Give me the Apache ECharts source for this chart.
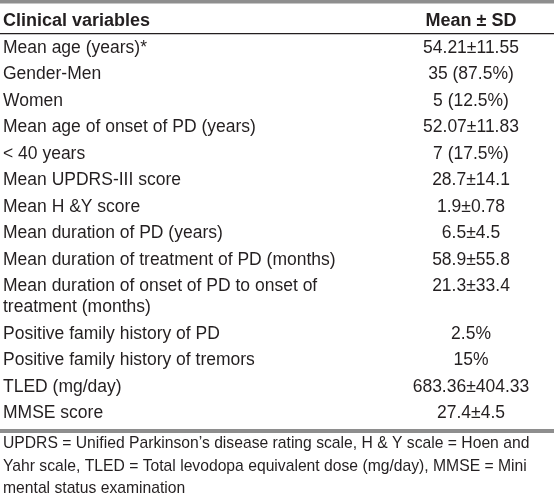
<!DOCTYPE html>
<html><head><meta charset="utf-8">
<script src="https://cdn.jsdelivr.net/npm/echarts@6/dist/echarts.min.js"></script>
<style>html,body{margin:0;padding:0;background:#fff}#c{width:554px;height:496px}</style>
</head><body><div id="c"></div>
<script>
const headerLabels = ['Clinical variables', 'Mean \u00b1 SD'];
const rowLabels = [
  'Mean age (years)*',
  'Gender-Men',
  'Women',
  'Mean age of onset of PD (years)',
  '< 40 years',
  'Mean UPDRS-III score',
  'Mean H &Y score',
  'Mean duration of PD (years)',
  'Mean duration of treatment of PD (months)',
  'Mean duration of onset of PD to onset of\ntreatment (months)',
  'Positive family history of PD',
  'Positive family history of tremors',
  'TLED (mg/day)',
  'MMSE score'
];
const rowValues = [
  '54.21\u00b111.55',
  '35 (87.5%)',
  '5 (12.5%)',
  '52.07\u00b111.83',
  '7 (17.5%)',
  '28.7\u00b114.1',
  '1.9\u00b10.78',
  '6.5\u00b14.5',
  '58.9\u00b155.8',
  '21.3\u00b133.4',
  '2.5%',
  '15%',
  '683.36\u00b1404.33',
  '27.4\u00b14.5'
];
const footnoteLines = [
  'UPDRS = Unified Parkinson\u2019s disease rating scale, H & Y scale = Hoen and',
  'Yahr scale, TLED = Total levodopa equivalent dose (mg/day), MMSE = Mini',
  'mental status examination'
];

const FONT = "'Liberation Sans', Arial, Helvetica, sans-serif";
const TEXT = '#231f20';
const LINE_STEP = 0.81;   // extra line inside a wrapped cell (row units)
const LEFT_X = 3, VALUE_X = 471;

// row positions (row units), derived from number of lines in each label
const rowPos = [];
let p = 1;
rowLabels.forEach(l => { rowPos.push(p); p += 1 + LINE_STEP * (l.split('\n').length - 1); });
const lastPos = rowPos[rowPos.length - 1];

const rowData = rowLabels.map((l, i) => [i, rowPos[i]]);

const chart = echarts.init(document.getElementById('c'), null, {renderer: 'canvas'});

function txt(x, y, s, opt) {
  return {type: 'text', style: Object.assign({x: x, y: y, text: s, fill: TEXT,
    font: '17.5px ' + FONT, textAlign: 'left', textVerticalAlign: 'middle'}, opt || {})};
}

chart.setOption({
  animation: false,
  grid: {left: 0, right: 0, top: 0, bottom: 0},
  xAxis: {type: 'value', min: 0, max: 554, show: false},
  yAxis: {type: 'value', inverse: true, min: -0.8, max: -0.8 + 496 / 26.5, show: false},
  series: [
    {
      type: 'custom',
      data: rowData,
      renderItem: function (params, api) {
        const i = api.value(0);
        const pos = api.value(1);
        const lines = rowLabels[i].split('\n');
        const children = [];
        lines.forEach((ln, j) => {
          const pt = api.coord([LEFT_X, pos + j * LINE_STEP]);
          children.push(txt(pt[0], pt[1], ln));
        });
        const vp = api.coord([VALUE_X, pos]);
        children.push(txt(vp[0], vp[1], rowValues[i], {textAlign: 'center'}));
        return {type: 'group', children: children};
      }
    },
    {
      type: 'custom',
      data: [[0, 0]],
      renderItem: function (params, api) {
        const cs = params.coordSys;
        const children = [];
        // top gray rule
        children.push({type: 'rect', shape: {x: cs.x, y: cs.y, width: cs.width, height: 3.5},
          style: {fill: '#8e8e8e'}});
        // header
        const h1 = api.coord([LEFT_X, 0]);
        const h2 = api.coord([VALUE_X, 0]);
        children.push(txt(h1[0], h1[1], headerLabels[0], {font: 'bold 18px ' + FONT}));
        children.push(txt(h2[0], h2[1], headerLabels[1], {font: 'bold 18px ' + FONT, textAlign: 'center'}));
        // header rule
        const hr = api.coord([0, 0.47]);
        children.push({type: 'rect', shape: {x: cs.x, y: hr[1] - 0.6, width: cs.width, height: 1.3},
          style: {fill: '#231f20'}});
        // bottom gray rule
        const br = api.coord([0, lastPos + 0.65]);
        children.push({type: 'rect', shape: {x: cs.x, y: br[1] - 2, width: cs.width, height: 4},
          style: {fill: '#8e8e8e'}});
        // footnote
        footnoteLines.forEach((ln, j) => {
          const fp = api.coord([LEFT_X, lastPos + 0.65 + 0.5 + j * 0.84]);
          children.push(txt(fp[0], fp[1], ln, {font: '15.7px ' + FONT}));
        });
        return {type: 'group', children: children};
      }
    }
  ]
});
</script>
</body></html>
